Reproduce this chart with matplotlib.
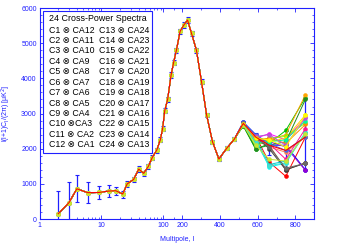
import numpy as np
import matplotlib
matplotlib.use('Agg')
import matplotlib.pyplot as plt
from matplotlib.patches import Rectangle
from matplotlib.ticker import FixedLocator

plt.rcParams['font.family'] = ['Liberation Sans', 'DejaVu Sans']

# multipoles and mean spectrum (blue error bars)
ell = [2, 3, 4, 6, 9, 13, 17, 22, 26, 33, 40, 48, 57, 66, 78, 89, 97, 105, 117, 133,
       146, 162, 186, 209, 229, 250, 276, 303, 330, 361, 395, 436, 476, 524, 590, 661, 749, 853]
cl_mean = [150, 470, 860, 750, 755, 795, 805, 710, 1000, 1125, 1420, 1300, 1495, 1750, 1960, 2250,
           2570, 3080, 3405, 4095, 4450, 4800, 5340, 5515, 5660, 5280, 4805, 3905, 2957, 2200,
           1706, 2010, 2267, 2720, 2300, 2130, 1930, 2420]
cl_err = [650, 570, 380, 290, 180, 170, 110, 100, 90, 80, 75, 70, 70, 65, 70, 70,
          75, 75, 75, 75, 75, 75, 75, 75, 75, 75, 70, 65, 60, 60,
          60, 60, 60, 60, 140, 300, 570, 1020]

# the 24 cross spectra only separate at the last five multipoles
highl_cl = [
    [2700, 2350, 1620, 1215, 2330],
    [2650, 1980, 2150, 2520, 3450],
    [2760, 2400, 2100, 2100, 1400],
    [2720, 2300, 2425, 2250, 2890],
    [2680, 2250, 1480, 1590, 2470],
    [2700, 2200, 2100, 1400, 1600],
    [2690, 2200, 2250, 2400, 3535],
    [2740, 2300, 2050, 1900, 2330],
    [2740, 2350, 2000, 1400, 1590],
    [2710, 2300, 2200, 2050, 1385],
    [2660, 2050, 2300, 2350, 2730],
    [2700, 2350, 2200, 2300, 2960],
    [2720, 2280, 1550, 1650, 2435],
    [2730, 2250, 2150, 1700, 2570],
    [2650, 2000, 2100, 2200, 3400],
    [2750, 2400, 2150, 1950, 2340],
    [2700, 2250, 2300, 2150, 2690],
    [2680, 2150, 2200, 2250, 2800],
    [2720, 2350, 2400, 2100, 2880],
    [2690, 2200, 1520, 1600, 2450],
    [2730, 2300, 2050, 1450, 1580],
    [2710, 2300, 2250, 2050, 2960],
    [2670, 2100, 1700, 1650, 2420],
    [2720, 2330, 2100, 1950, 2330],
]
colors = ['#ff0000', '#00c000', '#0000ff', '#ff00ff', '#00ffff', '#a0522d', '#ffa500', '#ff7f50',
          '#404040', '#9400d3', '#7fff00', '#ffd700', '#00ced1', '#ff1493', '#228b22', '#4169e1',
          '#ff8c00', '#00fa9a', '#ba55d3', '#40e0d0', '#696969', '#ffff00', '#c8e632', '#ff0000']

legend_col1 = ['C1 ⊗ CA12', 'C2 ⊗ CA11', 'C3 ⊗ CA10', 'C4 ⊗ CA9', 'C5 ⊗ CA8', 'C6 ⊗ CA7',
               'C7 ⊗ CA6', 'C8 ⊗ CA5', 'C9 ⊗ CA4', 'C10 ⊗CA3', 'C11 ⊗ CA2', 'C12 ⊗ CA1']
legend_col2 = ['C13 ⊗ CA24', 'C14 ⊗ CA23', 'C15 ⊗ CA22', 'C16 ⊗ CA21', 'C17 ⊗ CA20', 'C18 ⊗ CA19',
               'C19 ⊗ CA18', 'C20 ⊗ CA17', 'C21 ⊗ CA16', 'C22 ⊗ CA15', 'C23 ⊗ CA14', 'C24 ⊗ CA13']

# log axis up to l=200, linear above
L_BREAK = 200.0
K_LIN = 0.61


def fwd(x):
    x = np.asarray(x, dtype=float)
    lg = np.log10(np.clip(x, 1e-3, None))
    return np.where(x <= L_BREAK, lg, np.log10(L_BREAK) + (x - L_BREAK) * K_LIN / 200.0)


def inv(y):
    y = np.asarray(y, dtype=float)
    yb = np.log10(L_BREAK)
    return np.where(y <= yb, 10 ** np.clip(y, -3, yb), L_BREAK + (y - yb) * 200.0 / K_LIN)


blue = '#2020ff'
fig = plt.figure(figsize=(3.5, 2.45), dpi=100)
ax = fig.add_axes([0.113, 0.106, 0.785, 0.861])
ax.set_xscale('function', functions=(fwd, inv))

n_low = len(ell) - 5
n = len(highl_cl)
for i in range(n):
    y = list(cl_mean[:n_low]) + highl_cl[i]
    if i == n - 1:
        # last spectrum drawn as a plain red line on top
        ax.plot(ell, y, '-', color=colors[i], lw=0.8, zorder=3)
    else:
        ax.plot(ell, y, '-o', color=colors[i], lw=0.7, ms=2.8, mew=0.4, zorder=2 + i * 0.01)

ax.errorbar(ell, cl_mean, yerr=cl_err, fmt='none', ecolor=blue, elinewidth=0.9,
            capsize=1.6, capthick=0.8, zorder=1.5)

ax.set_xlim(1, 900)
ax.set_ylim(0, 6000)
major_x = [1, 10, 100, 200, 400, 600, 800]
ax.xaxis.set_major_locator(FixedLocator(major_x))
minor_x = [v * d for d in (1, 10) for v in range(2, 10)] + [150, 300, 500, 700, 900]
ax.xaxis.set_minor_locator(FixedLocator(minor_x))
ax.set_xticklabels([str(v) for v in major_x])
ax.set_yticks(range(0, 6001, 1000))
ax.yaxis.set_minor_locator(FixedLocator(range(0, 6001, 200)))

ax.tick_params(which='both', direction='in', top=True, right=True, colors=blue,
               labelsize=5, labelcolor=blue, pad=2)
ax.tick_params(which='major', length=3, width=0.6)
ax.tick_params(which='minor', length=1.5, width=0.5)
for s in ax.spines.values():
    s.set_color(blue)
    s.set_linewidth(0.8)

ax.set_xlabel('Multipole, l', fontsize=5, color=blue, labelpad=5)
ax.set_ylabel(r'l(l+1)C$_\mathrm{l}$/(2π) [μK$^2$]', fontsize=5, color=blue, labelpad=6)

# legend box drawn by hand
ax.add_patch(Rectangle((0.0138, 0.314), 0.394, 0.672, transform=ax.transAxes, fill=True,
                       facecolor='white', edgecolor=blue, lw=0.8, zorder=5))
ax.text(0.035, 0.951, '24 Cross-Power Spectra', transform=ax.transAxes, fontsize=6.4,
        va='center', ha='left', zorder=6)
for i in range(12):
    yy = (219 - (30 + 10.43 * i)) / 211.0
    ax.text(0.036, yy, legend_col1[i], transform=ax.transAxes, fontsize=6.3,
            va='center', ha='left', zorder=6)
    ax.text(0.218, yy, legend_col2[i], transform=ax.transAxes, fontsize=6.3,
            va='center', ha='left', zorder=6)

fig.savefig('out.png', dpi=100)
